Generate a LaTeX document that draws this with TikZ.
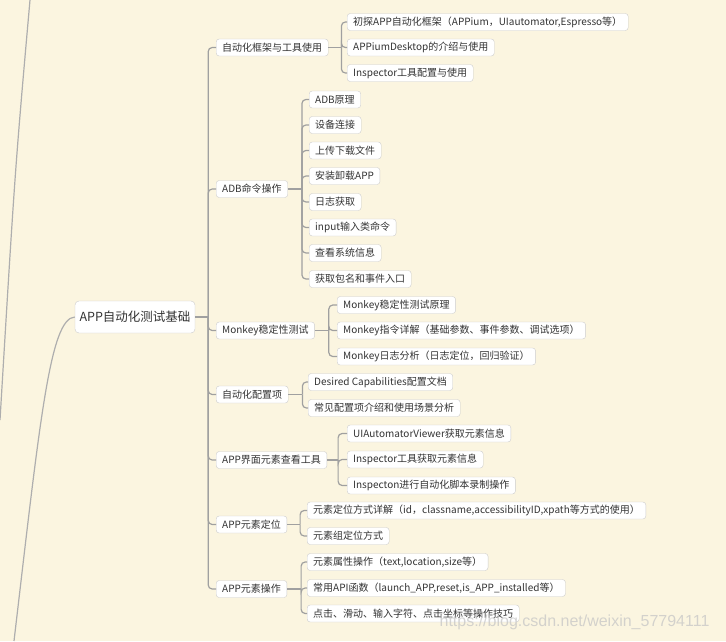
\documentclass[tikz,border=0pt]{standalone}
\usepackage{fontspec}
\setmainfont{Noto Sans CJK SC}
\newfontfamily\markfont{Liberation Sans}
\definecolor{paper}{RGB}{251,245,224}
\definecolor{ink}{RGB}{51,51,51}
\definecolor{edge}{RGB}{204,204,204}
\definecolor{wire}{RGB}{160,160,160}
\begin{document}
\begin{tikzpicture}[x=1pt, y=-1pt, font=\fontsize{10}{12}\selectfont, text=ink,
    topic/.style={draw=edge, fill=white, rounded corners=4pt, minimum height=32pt,
      minimum width=120pt, font=\fontsize{12.5}{14}\selectfont},
    branch/.style={draw=edge, fill=white, rounded corners=3pt, anchor=west,
      minimum height=17pt, inner xsep=6pt, inner ysep=0pt},
    leaf/.style={branch},
    stub/.style={wire, line width=1.8pt},
    link/.style={wire, line width=1.2pt, rounded corners=4pt},
    limb/.style={wire!85, line width=1.2pt}]
    \fill[paper] (0,0) rectangle (726,641);
    \useasboundingbox (0,0) rectangle (726,641);
    \coordinate (top) at (30,0);
    \coordinate (lost) at (0,420);
    \coordinate (away) at (14,641);
    \draw[limb] (top) .. controls (15,170) .. (lost);
    \node[topic] (root) at (135,317) {APP自动化测试基础};
    \draw[limb] (root.west) .. controls (50,318) and (40,420) .. (away);
    \node[branch] (fw) at (216,47.5) {自动化框架与工具使用};
    \node[branch] (adb) at (216,189) {ADB命令操作};
    \node[branch] (monkey) at (216,330.5) {Monkey稳定性测试};
    \node[branch] (cfg) at (216,394.5) {自动化配置项};
    \node[branch] (view) at (216,460) {APP界面元素查看工具};
    \node[branch] (loc) at (216,524.5) {APP元素定位};
    \node[branch] (op) at (216,589) {APP元素操作};
    \draw[stub] (root.east) -- ++(13,0);
    \draw[link] (root.east) ++(13,0) |- (fw.west);
    \draw[link] (root.east) ++(13,0) |- (adb.west);
    \draw[link] (root.east) ++(13,0) |- (monkey.west);
    \draw[link] (root.east) ++(13,0) |- (cfg.west);
    \draw[link] (root.east) ++(13,0) |- (view.west);
    \draw[link] (root.east) ++(13,0) |- (loc.west);
    \draw[link] (root.east) ++(13,0) |- (op.west);
    \begin{scope}
      \node[leaf] (fw1) at (347,22) {初探APP自动化框架（APPium，UIautomator,Espresso等）};
      \node[leaf] (fw2) at (347,47.5) {APPiumDesktop的介绍与使用};
      \node[leaf] (fw3) at (347,73) {Inspector工具配置与使用};
      \draw[stub] (fw.east) -- ++(13,0);
      \draw[link] (fw.east) ++(13,0) |- (fw1.west);
      \draw[link] (fw.east) ++(13,0) |- (fw2.west);
      \draw[link] (fw.east) ++(13,0) |- (fw3.west);
    \end{scope}
    \begin{scope}
      \node[leaf] (adb1) at (309,99.5) {ADB原理};
      \node[leaf] (adb2) at (309,125) {设备连接};
      \node[leaf] (adb3) at (309,150.5) {上传下载文件};
      \node[leaf] (adb4) at (309,176) {安装卸载APP};
      \node[leaf] (adb5) at (309,202) {日志获取};
      \node[leaf] (adb6) at (309,227.5) {input输入类命令};
      \node[leaf] (adb7) at (309,253) {查看系统信息};
      \node[leaf] (adb8) at (309,279) {获取包名和事件入口};
      \draw[stub] (adb.east) -- ++(14,0);
      \draw[link] (adb.east) ++(14,0) |- (adb1.west);
      \draw[link] (adb.east) ++(14,0) |- (adb2.west);
      \draw[link] (adb.east) ++(14,0) |- (adb3.west);
      \draw[link] (adb.east) ++(14,0) |- (adb4.west);
      \draw[link] (adb.east) ++(14,0) |- (adb5.west);
      \draw[link] (adb.east) ++(14,0) |- (adb6.west);
      \draw[link] (adb.east) ++(14,0) |- (adb7.west);
      \draw[link] (adb.east) ++(14,0) |- (adb8.west);
    \end{scope}
    \begin{scope}
      \node[leaf] (monkey1) at (337,305) {Monkey稳定性测试原理};
      \node[leaf] (monkey2) at (337,330.5) {Monkey指令详解（基础参数、事件参数、调试选项）};
      \node[leaf] (monkey3) at (337,356.5) {Monkey日志分析（日志定位，回归验证）};
      \draw[stub] (monkey.east) -- ++(14,0);
      \draw[link] (monkey.east) ++(14,0) |- (monkey1.west);
      \draw[link] (monkey.east) ++(14,0) |- (monkey2.west);
      \draw[link] (monkey.east) ++(14,0) |- (monkey3.west);
    \end{scope}
    \begin{scope}
      \node[leaf] (cfg1) at (308,382) {Desired Capabilities配置文档};
      \node[leaf] (cfg2) at (308,408) {常见配置项介绍和使用场景分析};
      \draw[stub] (cfg.east) -- ++(14,0);
      \draw[link] (cfg.east) ++(14,0) |- (cfg1.west);
      \draw[link] (cfg.east) ++(14,0) |- (cfg2.west);
    \end{scope}
    \begin{scope}
      \node[leaf] (view1) at (347,433.5) {UIAutomatorViewer获取元素信息};
      \node[leaf] (view2) at (347,459.5) {Inspector工具获取元素信息};
      \node[leaf] (view3) at (347,485.5) {Inspecton进行自动化脚本录制操作};
      \draw[stub] (view.east) -- ++(11,0);
      \draw[link] (view.east) ++(11,0) |- (view1.west);
      \draw[link] (view.east) ++(11,0) |- (view2.west);
      \draw[link] (view.east) ++(11,0) |- (view3.west);
    \end{scope}
    \begin{scope}
      \node[leaf] (loc1) at (307,510.5) {元素定位方式详解（id，classname,accessibilityID,xpath等方式的使用）};
      \node[leaf] (loc2) at (307,536) {元素组定位方式};
      \draw[stub] (loc.east) -- ++(13,0);
      \draw[link] (loc.east) ++(13,0) |- (loc1.west);
      \draw[link] (loc.east) ++(13,0) |- (loc2.west);
    \end{scope}
    \begin{scope}
      \node[leaf] (op1) at (307,562) {元素属性操作（text,location,size等）};
      \node[leaf] (op2) at (307,588) {常用API函数（launch\_APP,reset,is\_APP\_installed等）};
      \node[leaf] (op3) at (307,613.5) {点击、滑动、输入字符、点击坐标等操作技巧};
      \draw[stub] (op.east) -- ++(14,0);
      \draw[link] (op.east) ++(14,0) |- (op1.west);
      \draw[link] (op.east) ++(14,0) |- (op2.west);
      \draw[link] (op.east) ++(14,0) |- (op3.west);
    \end{scope}
    \node[anchor=east, font=\markfont\fontsize{16}{18}\selectfont, text=gray!45,
      opacity=.75] (mark) at (713,622) {https://blog.csdn.net/weixin\_57794111};
  \end{tikzpicture}
\end{document}
